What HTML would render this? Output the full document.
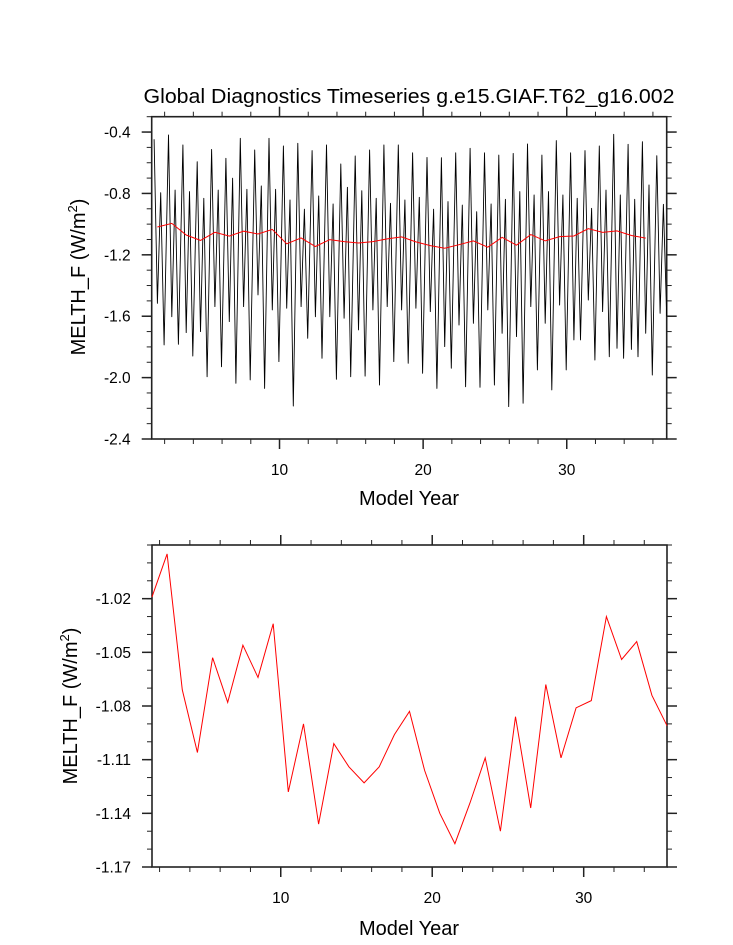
<!DOCTYPE html>
<html><head><meta charset="utf-8">
<style>
html,body{margin:0;padding:0;background:#fff;}
svg{display:block;font-family:"Liberation Sans",Arial,sans-serif;}
</style></head>
<body>
<svg id="chart" width="733" height="945" viewBox="0 0 733 945" xmlns="http://www.w3.org/2000/svg">
<text x="409" y="103" font-size="20" text-anchor="middle" textLength="531" lengthAdjust="spacingAndGlyphs">Global Diagnostics Timeseries g.e15.GIAF.T62_g16.002</text>
<g id="top"></g>
<g id="bot"></g>
<text x="409" y="505" font-size="20" text-anchor="middle">Model Year</text>
<text x="409" y="935" font-size="20" text-anchor="middle">Model Year</text>
<text transform="translate(85,277) rotate(-90)" font-size="20" text-anchor="middle">MELTH_F (W/m<tspan font-size="13" dy="-8">2</tspan><tspan dy="8">)</tspan></text>
<text transform="translate(77,706) rotate(-90)" font-size="20" text-anchor="middle">MELTH_F (W/m<tspan font-size="13" dy="-8">2</tspan><tspan dy="8">)</tspan></text>
</svg>
<script>
// Annual means (years 1.5 .. 35.5)
const annualYears = [1.5,2.5,3.5,4.5,5.5,6.5,7.5,8.5,9.5,10.5,11.5,12.5,13.5,14.5,15.5,16.5,17.5,18.5,19.5,20.5,21.5,22.5,23.5,24.5,25.5,26.5,27.5,28.5,29.5,30.5,31.5,32.5,33.5,34.5,35.5];
const annualMeans = [-1.019,-0.995,-1.071,-1.106,-1.053,-1.078,-1.046,-1.064,-1.034,-1.128,-1.090,-1.146,-1.101,-1.114,-1.123,-1.114,-1.096,-1.083,-1.116,-1.140,-1.157,-1.134,-1.109,-1.150,-1.086,-1.137,-1.068,-1.109,-1.081,-1.077,-1.030,-1.054,-1.044,-1.074,-1.091];
// Monthly series extrema per year (36 years): main peak, shallow trough, secondary peak, deep trough
const peakHigh = [-0.447,-0.419,-0.484,-0.593,-0.513,-0.571,-0.441,-0.517,-0.441,-0.491,-0.473,-0.521,-0.484,-0.608,-0.556,-0.517,-0.484,-0.484,-0.535,-0.565,-0.567,-0.535,-0.506,-0.535,-0.550,-0.539,-0.478,-0.550,-0.456,-0.535,-0.521,-0.491,-0.415,-0.480,-0.463,-0.554];
const troughShallow = [-1.516,-1.603,-1.707,-1.700,-1.537,-1.635,-1.537,-1.461,-1.559,-1.548,-1.537,-1.603,-1.603,-1.613,-1.689,-1.559,-1.537,-1.559,-1.548,-1.570,-1.798,-1.657,-1.646,-1.559,-1.711,-1.733,-1.537,-1.646,-1.527,-1.754,-1.494,-1.570,-1.809,-1.816,-1.711,-1.581];
const peakLow = [-0.795,-0.778,-0.788,-0.832,-0.778,-0.701,-0.773,-0.751,-0.773,-0.843,-0.903,-0.817,-0.869,-0.760,-0.782,-0.832,-0.864,-0.843,-0.825,-0.903,-0.853,-0.876,-0.919,-0.869,-0.838,-0.788,-0.810,-0.788,-0.810,-0.832,-0.897,-0.778,-0.810,-0.838,-0.745,-0.871];
const troughDeep = [-1.787,-1.783,-1.859,-1.994,-1.929,-2.037,-2.015,-2.070,-1.896,-2.185,-1.744,-1.874,-2.011,-1.994,-1.990,-2.048,-1.896,-1.907,-1.972,-2.070,-1.939,-2.059,-2.063,-2.048,-2.189,-2.167,-1.950,-2.080,-1.950,-1.754,-1.885,-1.864,-1.874,-1.864,-1.983,-1.600];
const topYTicks = [-0.4,-0.8,-1.2,-1.6,-2.0,-2.4];
const topYTickLabels = ["-0.4","-0.8","-1.2","-1.6","-2.0","-2.4"];
const botYTicks = [-1.02,-1.05,-1.08,-1.11,-1.14,-1.17];
const botYTickLabels = ["-1.02","-1.05","-1.08","-1.11","-1.14","-1.17"];
const xTicks = [10,20,30];
const xTickLabels = ["10","20","30"];

const NS = "http://www.w3.org/2000/svg";
function mk(parent, tag, attrs){
  const e = document.createElementNS(NS, tag);
  for (const k in attrs) e.setAttribute(k, attrs[k]);
  parent.appendChild(e);
  return e;
}

function panel(g, box, xmin, xmax, ymin, ymax, yTicks, yLabels, yMinorStep, prefix){
  const X = t => box.l + (t - xmin) / (xmax - xmin) * (box.r - box.l);
  const Y = v => box.t + (ymax - v) / (ymax - ymin) * (box.b - box.t);
  const ax = "#222";
  // minor y ticks
  for (let v = ymin; v <= ymax + 1e-9; v += yMinorStep) {
    const y = Y(v);
    const a = mk(g, "line", {x1: box.l - 5, x2: box.l, y1: y, y2: y, stroke: ax, "stroke-width": 1});
    
    
    const b = mk(g, "line", {x1: box.r, x2: box.r + 5, y1: y, y2: y, stroke: ax, "stroke-width": 1});
    
    
  }
  yTicks.forEach((v, i) => {
    const y = Y(v);
    const a = mk(g, "line", {x1: box.l - 10, x2: box.l, y1: y, y2: y, stroke: ax, "stroke-width": 1.5});
    
    
    const b = mk(g, "line", {x1: box.r, x2: box.r + 10, y1: y, y2: y, stroke: ax, "stroke-width": 1.5});
    
    
    const t = mk(g, "text", {x: box.l - 21, y: y + 5.5, "font-size": 15.5, "text-anchor": "end"});
    t.textContent = yLabels[i];
    
    
  });
  // x ticks
  for (let t = 2; t <= xmax; t += 2) {
    if (t < xmin) continue;
    const x = X(t);
    const major = t % 10 === 0;
    const len = major ? 10 : 5;
    const a = mk(g, "line", {x1: x, x2: x, y1: box.b, y2: box.b + len, stroke: ax, "stroke-width": major ? 1.5 : 1});
    
    
    const b = mk(g, "line", {x1: x, x2: x, y1: box.t - len, y2: box.t, stroke: ax, "stroke-width": major ? 1.5 : 1});
    
    
  }
  xTicks.forEach((t, i) => {
    const tx = mk(g, "text", {x: X(t), y: box.b + 36, "font-size": 15.5, "text-anchor": "middle"});
    tx.textContent = xTickLabels[i];
    
    
  });
  const fr = mk(g, "rect", {x: box.l, y: box.t, width: box.r - box.l, height: box.b - box.t, fill: "none", stroke: ax, "stroke-width": 1.6});
  
  
  return {X, Y};
}

// Top panel
const gt = document.getElementById("top");
const topBox = {l: 151.7, r: 666.7, t: 116.7, b: 439};
const st = panel(gt, topBox, 1.1, 36.96, -2.4, -0.3, topYTicks, topYTickLabels, 0.1, "top");
let pts = [];
for (let k = 0; k < peakHigh.length; k++) {
  const base = 1.27 + k;
  pts.push([st.X(base), st.Y(peakHigh[k])]);
  pts.push([st.X(base + 0.23), st.Y(troughShallow[k])]);
  pts.push([st.X(base + 0.46), st.Y(peakLow[k])]);
  pts.push([st.X(base + 0.69), st.Y(troughDeep[k])]);
}
const mLine = mk(gt, "polyline", {points: pts.map(p => p[0].toFixed(1) + "," + p[1].toFixed(1)).join(" "), fill: "none", stroke: "#000", "stroke-width": 0.9, "stroke-linejoin": "round"});


const aTop = mk(gt, "polyline", {points: annualYears.map((t, i) => st.X(t).toFixed(1) + "," + st.Y(annualMeans[i]).toFixed(1)).join(" "), fill: "none", stroke: "#f00", "stroke-width": 1});



// Bottom panel
const gb = document.getElementById("bot");
const botBox = {l: 152, r: 667, t: 545, b: 867};
const sb = panel(gb, botBox, 1.5, 35.5, -1.17, -0.99, botYTicks, botYTickLabels, 0.01, "bottom");
const aBot = mk(gb, "polyline", {points: annualYears.map((t, i) => sb.X(t).toFixed(1) + "," + sb.Y(annualMeans[i]).toFixed(1)).join(" "), fill: "none", stroke: "#f00", "stroke-width": 1});


</script>
</body></html>
